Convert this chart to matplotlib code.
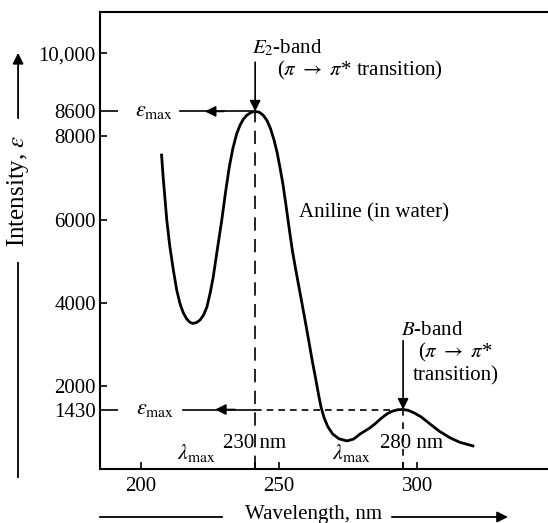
import matplotlib
matplotlib.use("Agg")
import matplotlib.pyplot as plt
from matplotlib.lines import Line2D
import numpy as np

plt.rcParams['font.family'] = ['Liberation Serif', 'DejaVu Serif']
plt.rcParams['mathtext.fontset'] = 'stix'

# Data (wavelength on axis scale, molar absorptivity)
wavelength = [207.4, 208.0, 208.7, 209.3, 210.4, 211.7, 212.9, 214.1, 215.3, 216.5,
              217.6, 218.7, 220.0, 221.3, 222.6, 223.8, 225.0, 226.1, 227.6, 229.2,
              230.5, 231.9, 233.2, 234.6, 235.8, 237.0, 238.3, 239.8, 241.3, 242.8,
              244.2, 245.6, 246.9, 248.2, 249.3, 250.3, 251.3, 252.4, 253.6, 254.8,
              256.1, 257.5, 259.0, 260.6, 262.0, 263.2, 264.3, 265.2, 266.3, 267.6,
              269.4, 271.7, 274.6,
              277.0, 279.3, 281.0, 282.9, 285.0, 287.0, 289.1, 291.0, 293.0, 294.9,
              296.8, 299.0, 301.5, 304.7, 308.0, 311.9, 315.5, 320.2]
intensity = [7550, 7000, 6450, 5980, 5350, 4770, 4300, 3970, 3750, 3610,
             3530, 3500, 3520, 3580, 3700, 3890, 4230, 4610, 5280, 5980,
             6620, 7250, 7700, 8060, 8265, 8410, 8510, 8575, 8600, 8580,
             8510, 8380, 8180, 7900, 7600, 7250, 6880, 6380, 5800, 5250,
             4760, 4260, 3720, 3130, 2600, 2180, 1780, 1480, 1230, 1020,
             840, 725, 675,
             720, 840, 910, 990, 1100, 1220, 1325, 1390, 1425, 1430,
             1410, 1345, 1250, 1080, 910, 750, 640, 555]

e2_peak = (241.3, 8600)
b_peak = (294.9, 1430)

x_ticks = [200, 250, 300]
x_ticklabels = ['200', '250', '300']
y_ticks = [2000, 4000, 6000, 8000, 10000]
y_ticklabels = ['2000', '4000', '6000', '8000', '10,000']
y_special_ticks = [1430, 8600]
y_special_labels = ['1430', '8600']

fig = plt.figure(figsize=(5.48, 5.23), dpi=100)
ax = fig.add_axes([0.1825, 0.1033, 0.8175, 0.8737])
ax.set_xlim(185.1, 347.4)
ax.set_ylim(0, 10990)

lw_sp = 1.5
for s in ['left', 'bottom', 'top']:
    ax.spines[s].set_linewidth(lw_sp)
ax.spines['right'].set_visible(False)

ax.plot(wavelength, intensity, color='black', lw=2.0, solid_joinstyle='round')

ax.set_xticks(x_ticks)
ax.set_xticklabels(x_ticklabels)
ax.set_xticks([e2_peak[0], b_peak[0]], minor=True)
ax.set_yticks(y_ticks)
ax.set_yticklabels(y_ticklabels)
ax.set_yticks(y_special_ticks, minor=True)
ax.set_yticklabels(y_special_labels, minor=True)
ax.tick_params(axis='both', which='major', direction='in', length=5, width=1.2,
               labelsize=15, pad=3)
ax.tick_params(axis='x', which='major', pad=6)
ax.tick_params(axis='x', which='minor', direction='in', length=5, width=1.2)
ax.tick_params(axis='y', which='minor', direction='in', length=13, width=1.2,
               labelsize=15, pad=3)

fs = 15
# E2 band
ax.plot([e2_peak[0], e2_peak[0]], [0, e2_peak[1]], color='black', lw=1.2,
        dashes=(8, 5))
ax.annotate('', xy=e2_peak, xytext=(e2_peak[0], 9783),
            arrowprops=dict(arrowstyle='-|>', lw=1.2, color='black',
                            mutation_scale=16, shrinkA=0, shrinkB=0))
ax.text(240.3, 10130, r'$E_2$-band', fontsize=fs, ha='left', va='center')
ax.text(249.4, 9590, r'($\pi\ \rightarrow\ \pi$* transition)', fontsize=fs,
        ha='left', va='center')
ax.plot([214.1, e2_peak[0]], [e2_peak[1], e2_peak[1]], color='black', lw=1.2)
ax.annotate('', xy=(223.1, e2_peak[1]), xytext=(230.0, e2_peak[1]),
            arrowprops=dict(arrowstyle='-|>', lw=1.2, color='black',
                            mutation_scale=16, shrinkA=0, shrinkB=0))
ax.text(204.7, 8600, r'$\varepsilon_{\rm max}$', fontsize=16, ha='center', va='center')

# B band
ax.plot([b_peak[0], b_peak[0]], [0, b_peak[1]], color='black', lw=1.2,
        dashes=(4, 4))
ax.annotate('', xy=b_peak, xytext=(b_peak[0], 3084),
            arrowprops=dict(arrowstyle='-|>', lw=1.2, color='black',
                            mutation_scale=16, shrinkA=0, shrinkB=0))
ax.text(294.0, 3325, r'$B$-band', fontsize=fs, ha='left', va='center')
ax.text(300.2, 2795, r'($\pi\ \rightarrow\ \pi$*', fontsize=fs, ha='left', va='center')
ax.text(298.4, 2241, 'transition)', fontsize=fs, ha='left', va='center')
ax.plot([215.2, e2_peak[0]], [b_peak[1], b_peak[1]], color='black', lw=1.2)
ax.plot([e2_peak[0], b_peak[0]], [b_peak[1], b_peak[1]], color='black', lw=1.2,
        dashes=(4, 3))
ax.annotate('', xy=(226.8, b_peak[1]), xytext=(234.0, b_peak[1]),
            arrowprops=dict(arrowstyle='-|>', lw=1.2, color='black',
                            mutation_scale=16, shrinkA=0, shrinkB=0))
ax.text(205.0, 1430, r'$\varepsilon_{\rm max}$', fontsize=16, ha='center', va='center')

# lambda max labels
ax.text(220.0, 380, r'$\lambda_{\rm max}$', fontsize=16, ha='center', va='center')
ax.text(229.7, 620, '230 nm', fontsize=fs, ha='left', va='center')
ax.text(276.2, 380, r'$\lambda_{\rm max}$', fontsize=16, ha='center', va='center')
ax.text(286.5, 620, '280 nm', fontsize=fs, ha='left', va='center')

ax.text(257.2, 6169, 'Aniline (in water)', fontsize=fs, ha='left', va='center')

# Axis titles with arrows (figure coordinates)
fig.text(0.033, 0.635, r'Intensity, $\varepsilon$', rotation=90, fontsize=18,
         ha='center', va='center')
fig.add_artist(Line2D([0.033, 0.033], [0.088, 0.497], color='black', lw=1.3,
                      transform=fig.transFigure))
ax.annotate('', xy=(0.033, 0.899), xytext=(0.033, 0.774), xycoords='figure fraction',
            textcoords='figure fraction',
            arrowprops=dict(arrowstyle='-|>', lw=1.3, color='black',
                            mutation_scale=16, shrinkA=0, shrinkB=0))

fig.text(0.572, 0.0153, 'Wavelength, nm', fontsize=15, ha='center', va='center')
fig.add_artist(Line2D([0.1825, 0.405], [0.0115, 0.0115], color='black', lw=1.3,
                      transform=fig.transFigure))
ax.annotate('', xy=(0.927, 0.0115), xytext=(0.715, 0.0115), xycoords='figure fraction',
            textcoords='figure fraction',
            arrowprops=dict(arrowstyle='-|>', lw=1.3, color='black',
                            mutation_scale=16, shrinkA=0, shrinkB=0))

fig.savefig('out.png', dpi=100)
